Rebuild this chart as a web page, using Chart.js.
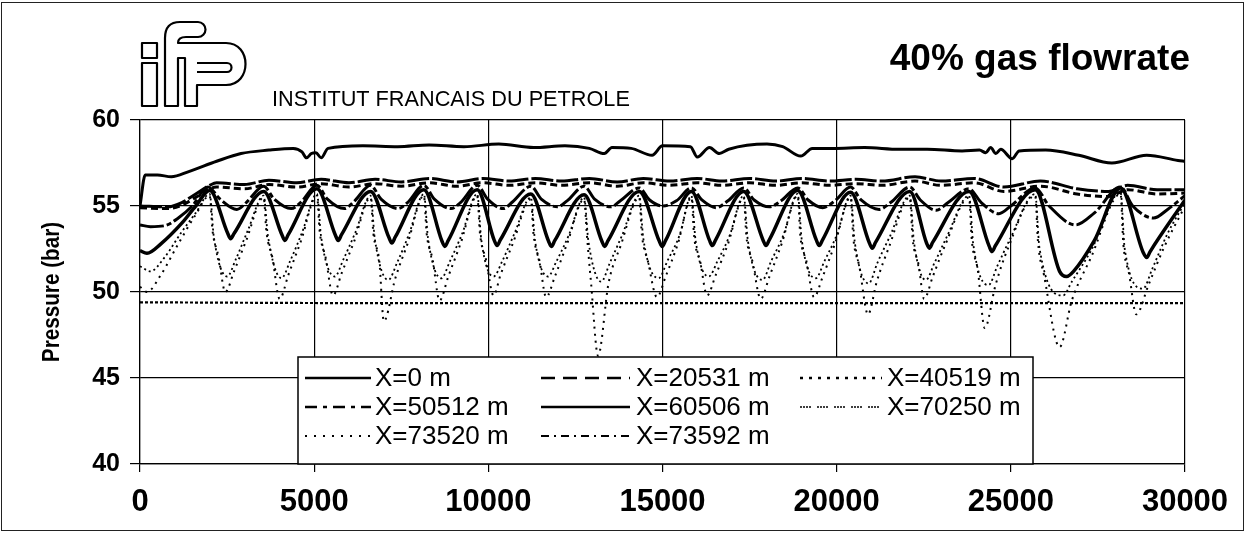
<!DOCTYPE html>
<html><head><meta charset="utf-8">
<script src="https://cdn.jsdelivr.net/npm/chart.js"></script>
<style>html,body{margin:0;padding:0;background:#fff;}canvas{display:block;}</style>
</head><body>
<canvas id="c" width="1246" height="533"></canvas>
<script>
// ---------- DATA ----------
const chartTitle = '40% gas flowrate';
const brandText = 'INSTITUT FRANCAIS DU PETROLE';
const yAxisTitle = 'Pressure (bar)';
const xTickValues = [0, 5000, 10000, 15000, 20000, 25000, 30000];
const xTickLabels = ['0', '5000', '10000', '15000', '20000', '25000', '30000'];
const yTickValues = [40, 45, 50, 55, 60];
const yTickLabels = ['40', '45', '50', '55', '60'];
const seriesNames = ['X=0 m', 'X=20531 m', 'X=40519 m', 'X=50512 m', 'X=60506 m', 'X=70250 m', 'X=73520 m', 'X=73592 m'];

const x0m = [0, 150, 500, 900, 1400, 2200, 2900, 3700, 4400, 4650, 4780, 4920, 5050, 5200, 5400, 6400, 7400, 8300, 9300, 10300, 11300, 12200, 12900, 13330, 13550, 14100, 14700, 15000, 15800, 16000, 16350, 16630, 16900, 18000, 18450, 18970, 19300, 19900, 20800, 21800, 22600, 23600, 24100, 24280, 24420, 24570, 24710, 25040, 25240, 26000, 26950, 27900, 28900, 29800, 30000];
const y0m = [55.0, 56.8, 56.8, 56.7, 57.0, 57.6, 58.05, 58.25, 58.35, 58.15, 57.8, 58.05, 58.1, 57.8, 58.35, 58.5, 58.45, 58.55, 58.45, 58.6, 58.4, 58.5, 58.35, 58.05, 58.4, 58.35, 57.95, 58.5, 58.45, 57.85, 58.4, 58.05, 58.3, 58.6, 58.45, 57.9, 58.35, 58.35, 58.4, 58.3, 58.3, 58.2, 58.25, 58.1, 58.4, 58.05, 58.3, 57.75, 58.2, 58.25, 57.95, 57.5, 57.95, 57.65, 57.6];

const xBand = [0, 800, 1200, 1600, 2000, 2200, 3000, 3700, 4500, 5200, 6000, 6750, 7500, 8300, 9100, 9850, 10600, 11350, 12100, 12900, 13700, 14450, 15200, 16000, 16700, 17500, 18250, 19000, 19800, 20550, 21300, 22250, 23000, 23950, 24800, 25850, 26900, 27800, 28350, 29200, 30000];
const y20531 = [55.0, 54.95, 55.2, 55.7, 56.2, 56.35, 56.25, 56.5, 56.35, 56.55, 56.35, 56.55, 56.4, 56.6, 56.4, 56.6, 56.45, 56.6, 56.45, 56.6, 56.4, 56.6, 56.45, 56.6, 56.45, 56.6, 56.45, 56.6, 56.45, 56.55, 56.45, 56.7, 56.45, 56.6, 56.1, 56.45, 56.0, 55.85, 56.2, 55.95, 55.95];
const y40519 = [54.9, 54.85, 55.05, 55.5, 56.0, 56.1, 56.0, 56.25, 56.1, 56.3, 56.1, 56.3, 56.15, 56.35, 56.15, 56.35, 56.2, 56.35, 56.2, 56.35, 56.15, 56.35, 56.2, 56.35, 56.2, 56.35, 56.2, 56.35, 56.2, 56.3, 56.2, 56.45, 56.2, 56.35, 55.85, 56.15, 55.7, 55.55, 55.95, 55.7, 55.75];

const x50512 = [0, 300, 700, 1100, 1500, 1950,
  2300, 2780, 3050, 3550, 3850, 4340, 4610, 5080, 5380, 5870, 6140, 6620, 6920, 7410, 7680,
  8150, 8450, 8930, 9200, 9680, 9980, 10430, 10700, 11220, 11520, 11990, 12260, 12750, 13050, 13520, 13790,
  14330, 14630, 15010, 15400, 15830, 16130, 16540, 16880, 17330, 17630, 18070, 18400, 18880, 19180, 19600, 19950,
  20400, 20700, 21220, 21550, 22100, 22400, 22860, 23200, 23800, 24150, 24660, 25000, 25700, 26100, 26860, 27400,
  28150, 28500, 29100, 29500, 30000];
const y50512 = [53.9, 53.8, 53.85, 54.3, 55.0, 56.1,
  55.4, 54.8, 55.2, 56.15, 55.4, 54.85, 55.2, 56.2, 55.4, 54.85, 55.25, 56.2, 55.4, 54.85, 55.2,
  56.2, 55.4, 54.85, 55.2, 56.2, 55.4, 54.85, 55.25, 56.15, 55.4, 54.95, 55.3, 56.15, 55.4, 54.95, 55.3,
  56.05, 55.35, 55.0, 55.3, 56.05, 55.35, 54.9, 55.3, 56.05, 55.35, 54.95, 55.3, 56.05, 55.35, 54.9, 55.3,
  56.1, 55.35, 54.8, 55.2, 56.1, 55.35, 54.75, 55.2, 56.0, 55.2, 54.55, 55.0, 56.05, 55.0, 53.9, 54.6,
  56.1, 55.0, 54.3, 54.8, 55.6];

const x60506 = [0, 200, 600, 1200, 1600,
  2000, 2520, 2600, 2700, 3550, 4080, 4160, 4260, 5080, 5610, 5690, 5790, 6620, 7150, 7230, 7330,
  8150, 8670, 8750, 8850, 9680, 10170, 10250, 10350, 11220, 11730, 11810, 11910, 12750, 13260, 13340, 13440,
  14330, 14910, 14990, 15090, 15830, 16350, 16430, 16530, 17330, 17890, 17970, 18070, 18880, 19420, 19500, 19600,
  20400, 20940, 21020, 21120, 22100, 22580, 22660, 22760, 23800, 24380, 24460, 24560, 25700, 26400, 26600, 26800, 27400,
  28150, 28800, 28900, 29000, 30000];
const y60506 = [52.4, 52.25, 52.8, 54.0, 55.0,
  55.9, 53.4, 53.1, 53.4, 55.85, 53.3, 53.0, 53.35, 56.0, 53.3, 53.0, 53.35, 55.85, 53.15, 52.85, 53.2,
  55.95, 52.95, 52.65, 53.0, 55.95, 53.0, 52.7, 53.05, 55.7, 52.95, 52.65, 53.0, 55.65, 52.95, 52.65, 53.0,
  55.85, 52.95, 52.65, 53.0, 55.85, 53.0, 52.7, 53.05, 55.85, 53.0, 52.7, 53.05, 55.9, 53.0, 52.7, 53.05,
  55.8, 52.85, 52.55, 52.9, 55.85, 52.85, 52.55, 52.9, 55.85, 52.65, 52.35, 52.7, 55.95, 51.2, 50.9, 51.2, 53.0,
  56.05, 52.3, 52.0, 52.35, 55.35];

const x70250 = [0, 300, 700, 1200, 1600,
  2000, 2120, 2500, 2750, 3100, 3550, 3670, 4060, 4310, 4660, 5080, 5200, 5590, 5840, 6190,
  6620, 6740, 7130, 7380, 7730, 8150, 8270, 8650, 8900, 9250, 9680, 9800, 10150, 10400, 10750,
  11220, 11340, 11710, 11960, 12310, 12750, 12870, 13240, 13490, 13840, 14330, 14450, 14890, 15140, 15490,
  15830, 15950, 16330, 16580, 16930, 17330, 17450, 17870, 18120, 18470, 18880, 19000, 19400, 19650, 20000,
  20400, 20520, 20920, 21170, 21520, 22100, 22220, 22560, 22810, 23160, 23800, 23920, 24360, 24610, 24960,
  25700, 25820, 26500, 26750, 27300, 28150, 28270, 28800, 29050, 29500, 30000];
const y70250 = [51.5, 51.2, 52.0, 53.5, 54.6,
  55.7, 53.2, 50.9, 51.9, 53.6, 55.6, 53.3, 50.8, 51.8, 53.5, 55.7, 53.2, 50.9, 51.9, 53.5,
  55.6, 53.1, 50.7, 51.7, 53.4, 55.7, 53.1, 50.8, 51.8, 53.4, 55.7, 53.0, 50.9, 51.8, 53.4,
  55.5, 53.0, 50.9, 51.8, 53.3, 55.5, 53.0, 50.6, 51.7, 53.3, 55.6, 53.1, 50.8, 51.8, 53.3,
  55.6, 53.0, 50.9, 51.8, 53.3, 55.6, 53.0, 50.7, 51.8, 53.3, 55.7, 53.0, 50.8, 51.8, 53.3,
  55.6, 52.9, 50.5, 51.7, 53.2, 55.6, 52.9, 50.7, 51.7, 53.2, 55.6, 52.8, 50.4, 51.5, 53.0,
  55.7, 52.6, 49.8, 50.6, 52.4, 55.8, 52.5, 50.2, 51.3, 53.4, 55.2];

const x73520 = [0, 200, 600, 1100, 1600,
  2000, 2080, 2250, 2450, 2700, 3050, 3550, 3630, 3800, 4010, 4260, 4610, 5080, 5160, 5330, 5540, 5790, 6140,
  6620, 6700, 6870, 7000, 7330, 7680, 8150, 8230, 8400, 8600, 8850, 9200, 9680, 9760, 9930, 10150, 10350, 10700,
  11220, 11300, 11470, 11660, 11910, 12260, 12750, 12830, 12950, 13150, 13450, 13800, 14330, 14410, 14580, 14840, 15090, 15440,
  15830, 15910, 16080, 16280, 16530, 16880, 17330, 17410, 17580, 17820, 18070, 18420, 18880, 18960, 19130, 19350, 19600, 19950,
  20400, 20480, 20650, 20900, 21150, 21500, 22100, 22180, 22350, 22510, 22760, 23110, 23800, 23880, 24050, 24250, 24560, 24910,
  25700, 25780, 25950, 26400, 26750, 27300, 28150, 28230, 28400, 28600, 28950, 29400, 30000];
const y73520 = [50.3, 50.0, 51.0, 52.8, 54.5,
  55.6, 53.6, 52.1, 50.0, 51.2, 53.0, 55.5, 53.5, 52.0, 49.6, 51.0, 52.9, 55.6, 53.5, 52.0, 49.8, 51.1, 52.9,
  55.5, 53.4, 51.8, 48.3, 50.8, 52.8, 55.6, 53.4, 51.9, 49.5, 50.9, 52.8, 55.6, 53.4, 51.9, 49.8, 51.0, 52.8,
  55.4, 53.3, 51.8, 49.7, 50.9, 52.8, 55.4, 53.3, 50.5, 46.3, 50.5, 52.7, 55.5, 53.3, 51.8, 49.7, 50.9, 52.8,
  55.5, 53.2, 51.8, 49.8, 51.0, 52.8, 55.5, 53.2, 51.8, 49.6, 50.9, 52.8, 55.6, 53.2, 51.8, 49.7, 50.9, 52.8,
  55.5, 53.1, 51.5, 48.7, 50.6, 52.6, 55.5, 53.1, 51.6, 49.6, 50.9, 52.7, 55.5, 53.0, 51.3, 47.9, 50.4, 52.5,
  55.6, 52.9, 51.0, 46.8, 49.5, 52.0, 55.7, 52.8, 51.0, 48.7, 50.4, 52.6, 55.0];

const x73592 = [0, 7500, 15000, 22500, 30000];
const y73592 = [49.4, 49.35, 49.35, 49.35, 49.35];

// ---------- STYLES ----------
const seriesStyles = [
  {w: 3, dash: [], lw: 2.5, ldash: []},
  {w: 3, dash: [22, 3], lw: 2.5, ldash: [14, 8]},
  {w: 3, dash: [7, 4], lw: 2.5, ldash: [3, 6]},
  {w: 3, dash: [24, 3, 5, 3], lw: 2.5, ldash: [12, 6, 4, 6]},
  {w: 3.5, dash: [], lw: 2.5, ldash: []},
  {w: 1.8, dash: [2, 3], lw: 1.5, ldash: [2, 1, 2, 1, 2, 1, 2, 6]},
  {w: 2, dash: [2, 5], lw: 2, ldash: [2, 7]},
  {w: 2.2, dash: [3, 2], lw: 1.8, ldash: [8, 5, 2, 5]}
];
const seriesX = [x0m, xBand, xBand, x50512, x60506, x70250, x73520, x73592];
const seriesY = [y0m, y20531, y40519, y50512, y60506, y70250, y73520, y73592];

const datasets = seriesNames.map((name, i) => ({
  label: name,
  data: seriesX[i].map((x, j) => ({x: x, y: seriesY[i][j]})),
  borderColor: '#000',
  backgroundColor: '#000',
  borderWidth: seriesStyles[i].w,
  borderDash: seriesStyles[i].dash,
  pointRadius: 0,
  fill: false,
  cubicInterpolationMode: 'monotone',
  legendWidth: seriesStyles[i].lw,
  legendDash: seriesStyles[i].ldash
}));

// ---------- DECOR / LEGEND PLUGIN ----------
function drawLogo(c) {
  c.save();
  c.lineWidth = 2.2;
  c.strokeStyle = '#000';
  c.fillStyle = '#fff';
  c.lineJoin = 'round';
  c.beginPath(); c.rect(142, 43, 15, 15); c.fill(); c.stroke();
  c.beginPath(); c.rect(142, 63, 15, 43); c.fill(); c.stroke();
  c.beginPath();
  c.moveTo(165, 106);
  c.lineTo(165, 38);
  c.quadraticCurveTo(165, 22, 180, 22);
  c.lineTo(198, 22);
  c.arc(198, 29.5, 7.5, -Math.PI / 2, Math.PI / 2);
  c.lineTo(186, 37);
  c.quadraticCurveTo(178, 37, 178, 43);
  c.lineTo(226, 43);
  c.bezierCurveTo(252, 43, 252, 85, 226, 85);
  c.lineTo(197, 85);
  c.lineTo(197, 106);
  c.lineTo(185, 106);
  c.lineTo(185, 58);
  c.lineTo(178, 58);
  c.lineTo(178, 106);
  c.closePath();
  c.fill(); c.stroke();
  c.beginPath();
  c.moveTo(197, 63);
  c.lineTo(227, 63);
  c.arc(227, 67.5, 4.5, -Math.PI / 2, Math.PI / 2);
  c.lineTo(197, 72);
  c.stroke();
  c.restore();
}

const legendBox = {left: 298, top: 357, right: 1033, bottom: 464};
const legendCols = [{s0: 305, s1: 371, t: 375}, {s0: 541, s1: 630, t: 636}, {s0: 800, s1: 882, t: 887}];
const legendRows = [378, 407, 436];

const decor = {
  id: 'decor',
  beforeDraw(chart) {
    const c = chart.ctx;
    c.save();
    c.fillStyle = '#fff';
    c.fillRect(0, 0, chart.width, chart.height);
    c.restore();
  },
  afterDraw(chart) {
    const c = chart.ctx;
    c.save();
    c.strokeStyle = '#222';
    c.lineWidth = 1;
    c.strokeRect(1.5, 2.5, 1242, 528);
    drawLogo(c);
    c.fillStyle = '#000';
    c.font = 'bold 37px "Liberation Sans", Arial, sans-serif';
    c.textAlign = 'right';
    c.textBaseline = 'alphabetic';
    c.fillText(chartTitle, 1190, 70);
    c.font = '21.7px "Liberation Sans", Arial, sans-serif';
    c.textAlign = 'left';
    c.fillText(brandText, 272, 106);
    // y axis title
    c.save();
    c.translate(53, 292);
    c.rotate(-Math.PI / 2);
    c.scale(0.9, 1);
    c.font = 'bold 23px "Liberation Sans", Arial, sans-serif';
    c.textAlign = 'center';
    c.textBaseline = 'middle';
    c.fillText(yAxisTitle, 0, 0);
    c.restore();
    // legend
    c.fillStyle = '#fff';
    c.fillRect(legendBox.left, legendBox.top, legendBox.right - legendBox.left, legendBox.bottom - legendBox.top);
    c.strokeStyle = '#000';
    c.lineWidth = 1.5;
    c.strokeRect(legendBox.left, legendBox.top, legendBox.right - legendBox.left, legendBox.bottom - legendBox.top);
    c.font = '26px "Liberation Sans", Arial, sans-serif';
    c.textBaseline = 'middle';
    c.textAlign = 'left';
    chart.data.datasets.forEach((ds, i) => {
      const col = legendCols[i % 3];
      const y = legendRows[Math.floor(i / 3)];
      c.beginPath();
      c.setLineDash(ds.legendDash);
      c.lineWidth = ds.legendWidth;
      c.strokeStyle = '#000';
      c.moveTo(col.s0, y);
      c.lineTo(col.s1, y);
      c.stroke();
      c.setLineDash([]);
      c.fillStyle = '#000';
      c.fillText(ds.label, col.t, y + 1);
    });
    c.restore();
  }
};

new Chart(document.getElementById('c'), {
  type: 'line',
  data: {datasets: datasets},
  plugins: [decor],
  options: {
    responsive: false,
    animation: false,
    devicePixelRatio: 1,
    layout: {padding: {left: 0, right: 61, top: 120, bottom: 0}},
    scales: {
      x: {
        type: 'linear', min: 0, max: 30000,
        afterFit: s => { s.height = 69; },
        afterBuildTicks: s => { s.ticks = xTickValues.map(v => ({value: v})); },
        ticks: {
          color: '#000', padding: 12, maxRotation: 0, autoSkip: false,
          font: {family: '"Liberation Sans", Arial, sans-serif', size: 31, weight: 'bold'},
          callback: v => xTickLabels[xTickValues.indexOf(v)]
        },
        grid: {color: '#000', lineWidth: 1.2, tickLength: 8, drawTicks: true},
        border: {color: '#000', width: 1.2}
      },
      y: {
        type: 'linear', min: 40, max: 60,
        afterFit: s => { s.width = 140; },
        afterBuildTicks: s => { s.ticks = yTickValues.map(v => ({value: v})); },
        ticks: {
          color: '#000', padding: 10,
          font: {family: '"Liberation Sans", Arial, sans-serif', size: 25, weight: 'bold'},
          callback: v => yTickLabels[yTickValues.indexOf(v)]
        },
        grid: {color: '#000', lineWidth: 1.2, tickLength: 10, drawTicks: true},
        border: {color: '#000', width: 1.2}
      }
    },
    plugins: {legend: {display: false}, tooltip: {enabled: false}, title: {display: false}}
  }
});
</script>
</body></html>
